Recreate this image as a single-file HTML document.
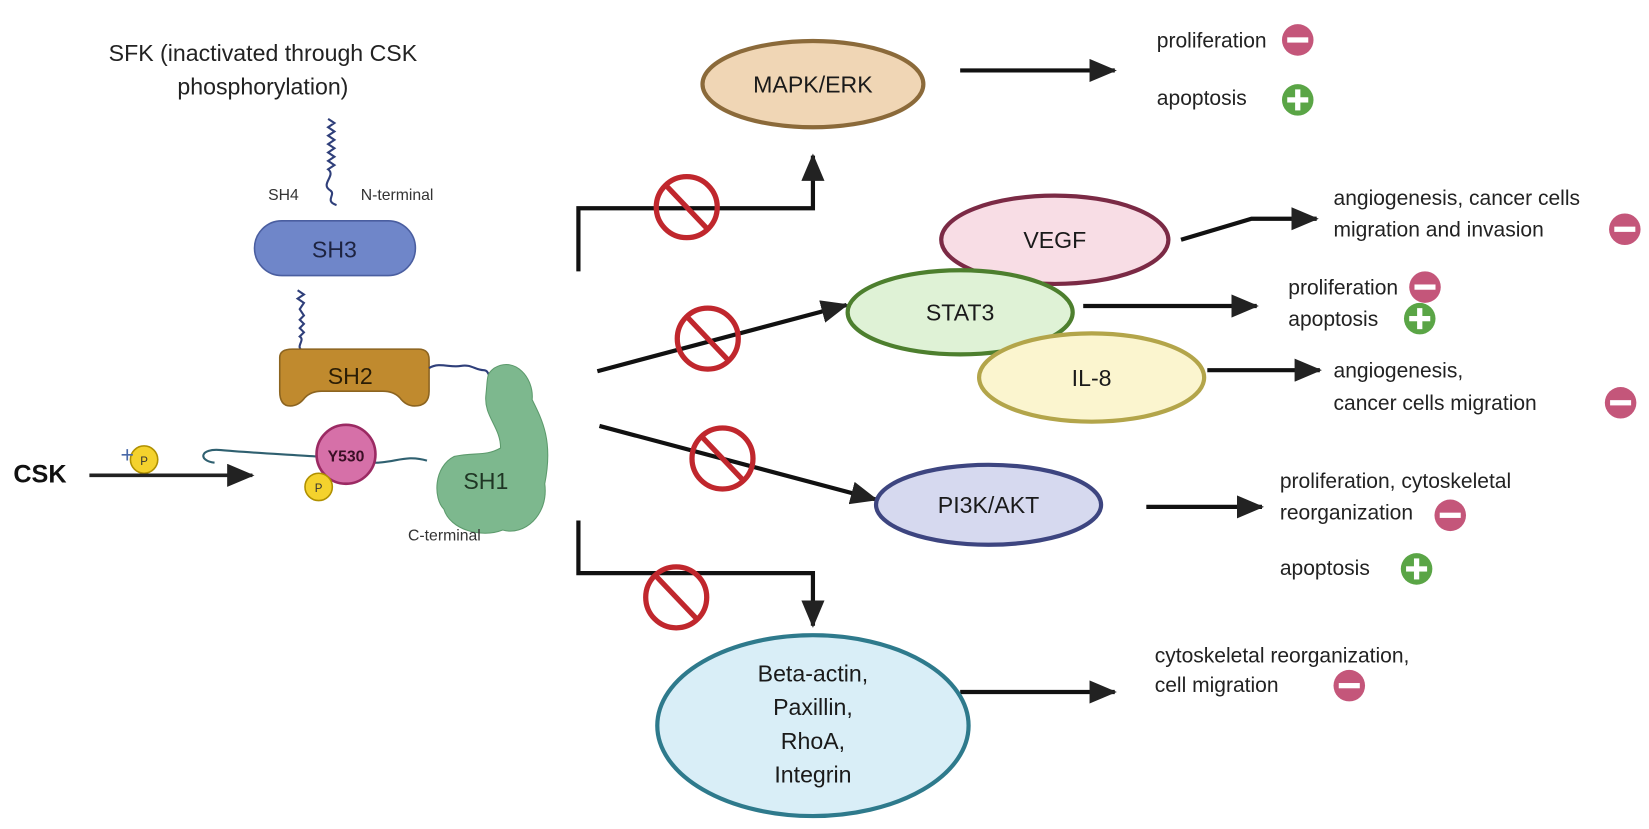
<!DOCTYPE html>
<html><head><meta charset="utf-8"><style>
body{margin:0;background:#fff}
svg{display:block;font-family:"Liberation Sans",sans-serif}
</style></head><body>
<svg width="1649" height="829" viewBox="0 0 1568 788.3" preserveAspectRatio="none" xmlns="http://www.w3.org/2000/svg">
<defs>
<marker id="ab" markerWidth="26" markerHeight="22" refX="24" refY="11" orient="auto" markerUnits="userSpaceOnUse"><path d="M0,0 L26,11 L0,22z" fill="#222"/></marker>
<g id="no"><circle r="29" fill="none" stroke="#c0272d" stroke-width="5"/><line x1="-19" y1="-20" x2="19" y2="20" stroke="#c0272d" stroke-width="5"/></g>
<g id="mi"><circle r="15" fill="#c4567a"/><rect x="-10" y="-2.5" width="20" height="5" fill="#fff"/></g>
<g id="pl"><circle r="15" fill="#5aa546"/><rect x="-10" y="-2.5" width="20" height="5" fill="#fff"/><rect x="-2.5" y="-10" width="5" height="20" fill="#fff"/></g>
</defs>

<g font-size="22" fill="#222" text-anchor="middle">
<text x="250" y="58">SFK (inactivated through CSK</text>
<text x="250" y="90">phosphorylation)</text>
</g>
<path d="M312,113 l6,4 -6,4 6,4 -6,4 6,4 -6,4 6,4 -6,4 6,4 -6,4 6,4 -6,4 c8,6 -8,14 2,20 c6,4 -6,10 6,14" fill="none" stroke="#2f3f7a" stroke-width="2"/>
<text x="255" y="190" font-size="15" fill="#333">SH4</text>
<text x="343" y="190" font-size="15" fill="#333">N-terminal</text>
<rect x="242" y="210" width="153" height="52" rx="26" fill="#6f86c9" stroke="#4a5ea0" stroke-width="1.5"/>
<text x="318" y="245" font-size="22" fill="#1d2340" text-anchor="middle">SH3</text>
<path d="M283,276 l6,4 -6,4 6,4 -4,6 4,6 -4,4 4,4 -4,4 4,4 -4,4 c6,4 -6,10 4,14" fill="none" stroke="#2f3f7a" stroke-width="2"/>
<path d="M266,340 q0,-8 12,-8 h120 q10,0 10,10 v30 q0,14 -14,14 q-8,0 -14,-8 q-6,-6 -16,-6 h-58 q-10,0 -16,6 q-6,8 -14,8 q-10,0 -10,-14z" fill="#c08a2e" stroke="#8c6420" stroke-width="1.5"/>
<text x="333" y="365" font-size="22" fill="#2a1d05" text-anchor="middle">SH2</text>
<path d="M408,350 c10,-6 20,0 30,-2 c10,-2 14,4 22,4 c6,0 4,10 10,8" fill="none" stroke="#2f3f7a" stroke-width="2"/>
<path d="M470,350 c20,-12 38,10 36,30 c10,20 20,40 12,80 c4,30 -20,50 -40,44 c-20,8 -50,0 -56,-20 c-10,-10 -10,-40 10,-50 c20,-4 30,0 44,-8 c0,-20 -16,-30 -14,-50 c2,-18 0,-20 8,-26z" fill="#7db88e" stroke="#5c9a6c" stroke-width="1"/>
<text x="462" y="465" font-size="22" fill="#1f3524" text-anchor="middle">SH1</text>
<path d="M300,434 c-30,-2 -70,-4 -90,-6 c-20,-2 -22,10 -6,12" fill="none" stroke="#2f6070" stroke-width="2"/>
<path d="M356,440 c20,0 30,-8 50,-2" fill="none" stroke="#2f6070" stroke-width="2"/>
<circle cx="329" cy="432" r="28" fill="#d670a8" stroke="#9b2a63" stroke-width="2.5"/>
<text x="329" y="439" font-size="15" font-weight="bold" fill="#3a0f25" text-anchor="middle">Y530</text>
<circle cx="137" cy="437" r="13" fill="#f4d22d" stroke="#b09000" stroke-width="1.5"/>
<text x="137" y="442" font-size="11" fill="#333" text-anchor="middle">P</text>
<circle cx="303" cy="463" r="13" fill="#f4d22d" stroke="#b09000" stroke-width="1.5"/>
<text x="303" y="468" font-size="11" fill="#333" text-anchor="middle">P</text>
<text x="121" y="440" font-size="22" fill="#4a6aa8" text-anchor="middle">+</text>
<text x="38" y="459" font-size="24" font-weight="bold" fill="#111" text-anchor="middle">CSK</text>
<line x1="85" y1="452" x2="240" y2="452" stroke="#222" stroke-width="3.5" marker-end="url(#ab)"/>
<text x="388" y="514" font-size="15" fill="#333">C-terminal</text>

<g stroke="#111" stroke-width="4" fill="none">
<path d="M550,258 V198 H773 V148" marker-end="url(#ab)"/>
<line x1="568" y1="353" x2="805" y2="290" marker-end="url(#ab)"/>
<line x1="570" y1="405" x2="833" y2="475" marker-end="url(#ab)"/>
<path d="M550,495 V545 H773 V595" marker-end="url(#ab)"/>
<line x1="913" y1="67" x2="1060" y2="67" marker-end="url(#ab)"/>
<path d="M1123,228 L1190,208 H1252" marker-end="url(#ab)"/>
<line x1="1030" y1="291" x2="1195" y2="291" marker-end="url(#ab)"/>
<line x1="1148" y1="352" x2="1255" y2="352" marker-end="url(#ab)"/>
<line x1="1090" y1="482" x2="1200" y2="482" marker-end="url(#ab)"/>
<line x1="913" y1="658" x2="1060" y2="658" marker-end="url(#ab)"/>
</g>
<use href="#no" x="653" y="197"/>
<use href="#no" x="673" y="322"/>
<use href="#no" x="687" y="436"/>
<use href="#no" x="643" y="568"/>

<g font-size="22" fill="#1a1a1a" text-anchor="middle">
<ellipse cx="773" cy="80" rx="105" ry="41" fill="#f0d6b5" stroke="#8b6a3a" stroke-width="4"/>
<text x="773" y="88">MAPK/ERK</text>
<ellipse cx="1003" cy="228" rx="108" ry="42" fill="#f8dde5" stroke="#7b2a45" stroke-width="4"/>
<text x="1003" y="236">VEGF</text>
<ellipse cx="913" cy="297" rx="107" ry="40" fill="#dff2d6" stroke="#4d7f2e" stroke-width="4"/>
<text x="913" y="305">STAT3</text>
<ellipse cx="1038" cy="359" rx="107" ry="42" fill="#fbf5cf" stroke="#b3a54a" stroke-width="4"/>
<text x="1038" y="367">IL-8</text>
<ellipse cx="940" cy="480" rx="107" ry="38" fill="#d6d9ef" stroke="#3d4580" stroke-width="4"/>
<text x="940" y="488">PI3K/AKT</text>
<ellipse cx="773" cy="690" rx="148" ry="86" fill="#d9eef7" stroke="#2e7a8c" stroke-width="4"/>
<text x="773" y="648">Beta-actin,</text>
<text x="773" y="680">Paxillin,</text>
<text x="773" y="712">RhoA,</text>
<text x="773" y="744">Integrin</text>
</g>

<g font-size="20" fill="#222">
<text x="1100" y="45">proliferation</text>
<text x="1100" y="100">apoptosis</text>
<text x="1268" y="195">angiogenesis, cancer cells</text>
<text x="1268" y="225">migration and invasion</text>
<text x="1225" y="280">proliferation</text>
<text x="1225" y="310">apoptosis</text>
<text x="1268" y="359">angiogenesis,</text>
<text x="1268" y="390">cancer cells migration</text>
<text x="1217" y="464">proliferation, cytoskeletal</text>
<text x="1217" y="494">reorganization</text>
<text x="1217" y="547">apoptosis</text>
<text x="1098" y="630">cytoskeletal reorganization,</text>
<text x="1098" y="658">cell migration</text>
</g>
<use href="#mi" x="1234" y="38"/>
<use href="#pl" x="1234" y="95"/>
<use href="#mi" x="1545" y="218"/>
<use href="#mi" x="1355" y="273"/>
<use href="#pl" x="1350" y="303"/>
<use href="#mi" x="1541" y="383"/>
<use href="#mi" x="1379" y="490"/>
<use href="#pl" x="1347" y="541"/>
<use href="#mi" x="1283" y="652"/>
</svg>
</body></html>
